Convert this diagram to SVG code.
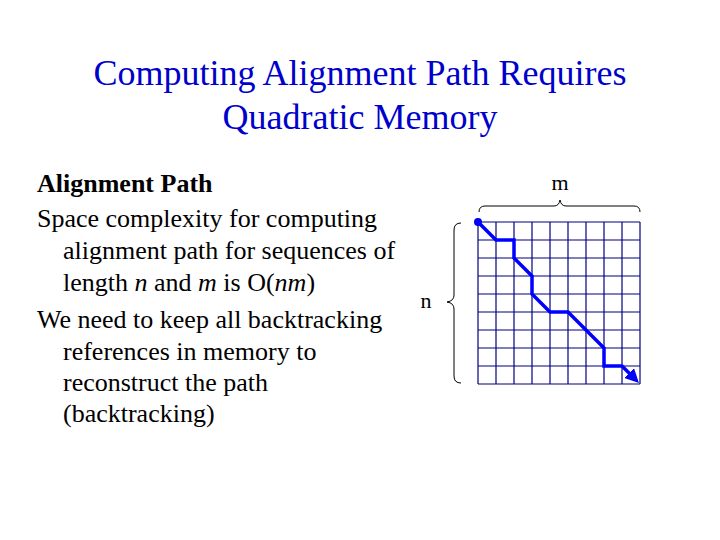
<svg xmlns="http://www.w3.org/2000/svg" width="720" height="540" viewBox="0 0 720 540">
<defs>
<style>
text{font-family:"Liberation Serif","Times New Roman",serif}
.title{font-size:36px;fill:#0000cc;text-anchor:middle}
.body{font-size:26px;fill:#000}
.g line{stroke:#000080;stroke-width:1.2}
.br{fill:none;stroke:#000;stroke-width:1}
</style>
<marker id="ah" markerWidth="4" markerHeight="4" refX="2" refY="2" orient="auto" markerUnits="strokeWidth"><path d="M0,0L4,2L0,4z" fill="#0000ff"/></marker>
</defs>
<rect width="720" height="540" fill="#fff"/>
<text class="title" x="360" y="85">Computing Alignment Path Requires</text>
<text class="title" x="360" y="129">Quadratic Memory</text>
<text class="body" x="37" y="192" font-weight="bold">Alignment Path</text>
<text class="body" x="37" y="227">Space complexity for computing</text>
<text class="body" x="63" y="259">alignment path for sequences of</text>
<text class="body" x="63" y="291">length <tspan font-style="italic">n</tspan> and <tspan font-style="italic">m</tspan> is O(<tspan font-style="italic">nm</tspan>)</text>
<text class="body" x="37" y="328">We need to keep all backtracking</text>
<text class="body" x="63" y="360">references in memory to</text>
<text class="body" x="63" y="391">reconstruct the path</text>
<text class="body" x="63" y="422">(backtracking)</text>
<text x="560" y="190" font-size="22" text-anchor="middle">m</text>
<text x="426" y="308" font-size="22" text-anchor="middle">n</text>
<path class="br" d="M479,212 Q479,206 485,206 L554,206 Q559,206 560,200 Q561,206 566,206 L634,206 Q640,206 640,212"/>
<path class="br" d="M461,223 Q454,223 454,230 L454,295 Q454,301 447,302 Q454,303 454,309 L454,376 Q454,383 461,383"/>
<g id="grid" class="g">
<line x1="478" y1="222" x2="478" y2="384"/><line x1="496" y1="222" x2="496" y2="384"/><line x1="514" y1="222" x2="514" y2="384"/><line x1="532" y1="222" x2="532" y2="384"/><line x1="550" y1="222" x2="550" y2="384"/><line x1="568" y1="222" x2="568" y2="384"/><line x1="586" y1="222" x2="586" y2="384"/><line x1="604" y1="222" x2="604" y2="384"/><line x1="622" y1="222" x2="622" y2="384"/><line x1="640" y1="222" x2="640" y2="384"/>
<line x1="478" y1="222" x2="640" y2="222"/><line x1="478" y1="240" x2="640" y2="240"/><line x1="478" y1="258" x2="640" y2="258"/><line x1="478" y1="276" x2="640" y2="276"/><line x1="478" y1="294" x2="640" y2="294"/><line x1="478" y1="312" x2="640" y2="312"/><line x1="478" y1="330" x2="640" y2="330"/><line x1="478" y1="348" x2="640" y2="348"/><line x1="478" y1="366" x2="640" y2="366"/><line x1="478" y1="384" x2="640" y2="384"/>
</g>
<g id="connectors">
<circle cx="478" cy="222" r="4" fill="#0000ff"/>
<path d="M478,222 L496,240 L514,240 L514,258 L532,276 L532,294 L550,312 L568,312 L604,348 L604,366 L622,366 L634,378" fill="none" stroke="#0000ff" stroke-width="3.5" marker-end="url(#ah)"/>
</g>
</svg>
